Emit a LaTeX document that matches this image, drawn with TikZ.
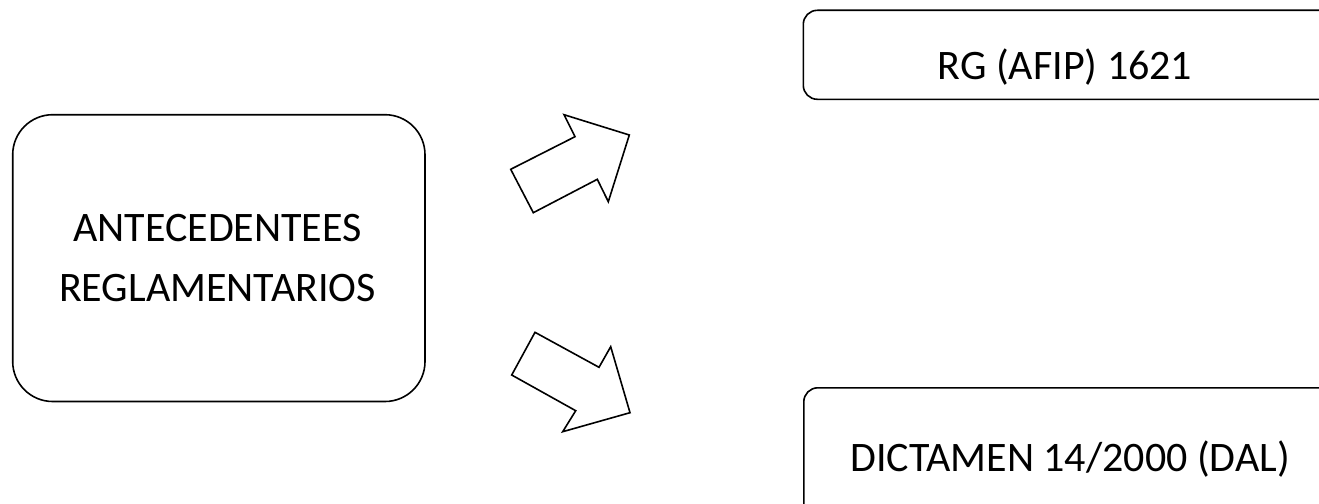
\documentclass[tikz,border=0pt]{standalone}
\usepackage{fontspec}
\setmainfont{Carlito}
\begin{document}
\begin{tikzpicture}[x=1pt,y=-1pt,
  box/.style={draw=black,line width=1.6pt,rectangle,inner sep=0pt},
  lbl/.style={inner sep=0pt,anchor=base,font=\fontsize{42}{60}\selectfont},
  blockarrow/.style={draw=black,line width=1.6pt,line join=miter,fill=white}]
\useasboundingbox (0,0) rectangle (1319,503);
\clip (0,0) rectangle (1319,503);
% boxes
\draw[box,rounded corners=40pt] (12.7,114.7) rectangle (425,401.5);
\node[box,rounded corners=14pt,minimum width=560pt,minimum height=89pt,anchor=north west] (rg) at (802.5,9.5) {};
\node[box,rounded corners=14pt,minimum width=560pt,minimum height=160pt,anchor=north west] (dict) at (803,387) {};
\node[inner sep=0pt,minimum width=412pt,minimum height=287pt] (ant) at (218.8,258.1) {};
% texts
\node[lbl] (t1) at (217.5,241.7) {ANTECEDENTEES};
\node[lbl] (t2) at (217.5,301.7) {REGLAMENTARIOS};
\node[lbl] (t3) at (1065,79.3) {RG (AFIP) 1621};
\node[lbl] (t4) at (1070,471.7) {DICTAMEN 14/2000 (DAL)};
% block arrows
\draw[blockarrow] (510.7,169.3) -- (533.3,212.7) -- (597.3,179.3) -- (608.3,201.7) -- (629.3,135) -- (564,114.7) -- (575,136.7) -- cycle;
\draw[blockarrow] (535,332.3) -- (511.7,375) -- (575.7,410.7) -- (562.7,431.7) -- (630,412.7) -- (610.7,346.7) -- (599,367.3) -- cycle;
\end{tikzpicture}
\end{document}
